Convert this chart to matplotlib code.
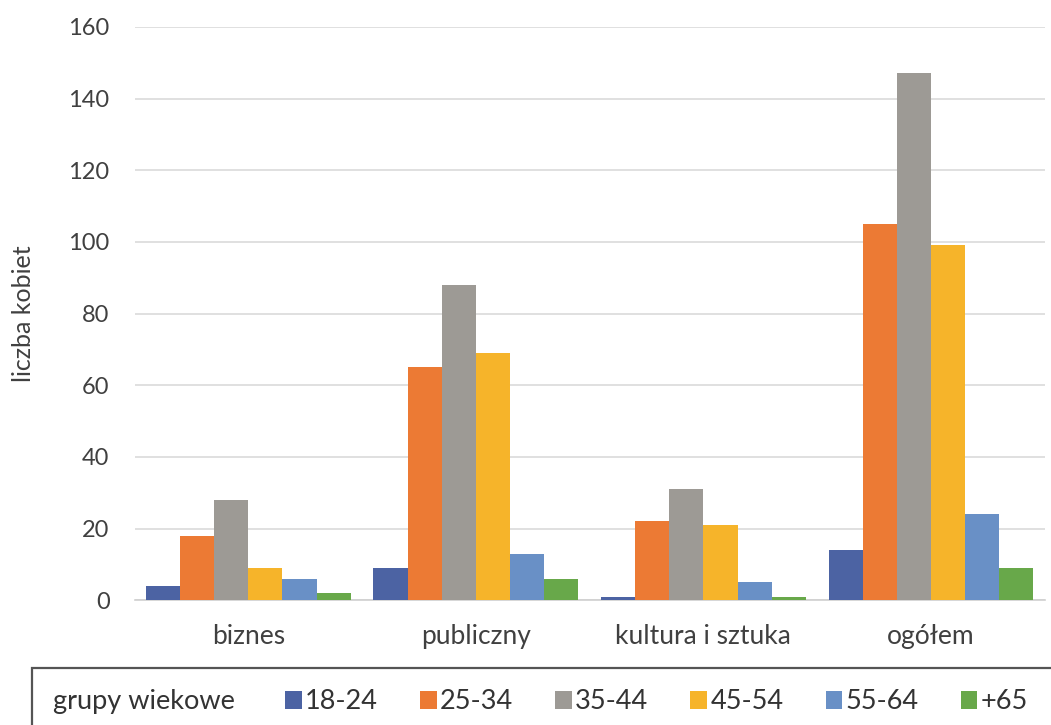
import numpy as np
import matplotlib.pyplot as plt
from matplotlib.patches import Rectangle

plt.rcParams['font.family'] = ['Lato', 'DejaVu Sans']

categories = ['biznes', 'publiczny', 'kultura i sztuka', 'ogółem']
age_groups = ['18-24', '25-34', '35-44', '45-54', '55-64', '+65']
values = {
    '18-24': [4, 9, 1, 14],
    '25-34': [18, 65, 22, 105],
    '35-44': [28, 88, 31, 147],
    '45-54': [9, 69, 21, 99],
    '55-64': [6, 13, 5, 24],
    '+65': [2, 6, 1, 9],
}
colors = ['#4c63a3', '#ec7a34', '#9d9a95', '#f6b42a', '#6990c6', '#68a84a']

fig = plt.figure(figsize=(10.51, 7.25), dpi=100)
ax = fig.add_axes([0.128, 0.172, 0.866, 0.791])

x = np.arange(len(categories))
n = len(age_groups)
width = 0.9 / n
handles = []
for i, (g, c) in enumerate(zip(age_groups, colors)):
    pos = x - 0.45 + width * (i + 0.5)
    b = ax.bar(pos, values[g], width=width, color=c, label=g, zorder=3)
    handles.append(b)

ax.set_xlim(-0.5, len(categories) - 0.5)
ax.set_ylim(0, 160)
ax.set_yticks(range(0, 161, 20))
ax.grid(axis='y', color='#dadada', linewidth=1.2, zorder=0)
for s in ['top', 'right', 'left']:
    ax.spines[s].set_visible(False)
ax.spines['bottom'].set_color('#d0d0d0')
ax.spines['bottom'].set_linewidth(1.2)
ax.tick_params(axis='both', length=0, colors='#404040', labelsize=17)
ax.tick_params(axis='x', pad=17, labelsize=19)
ax.tick_params(axis='y', pad=18)
ax.set_xticks(x)
ax.set_xticklabels(categories)
ax.set_ylabel('liczba kobiet', fontsize=18, color='#404040')
ax.yaxis.set_label_coords(-0.109, 0.5)

# legend frame running off the bottom-right edge
fig.patches.append(Rectangle((0.030, -0.05), 1.0, 0.1286, transform=fig.transFigure,
                             fill=False, edgecolor='#555555', linewidth=1.6))
fig.text(0.050, 0.032, 'grupy wiekowe', fontsize=19.5, color='#333333', va='center')
fig.legend(handles=handles, labels=age_groups, loc='center left',
           bbox_to_anchor=(0.271, 0.032), ncol=6, frameon=False,
           fontsize=19.5, handlelength=0.62, handleheight=0.62, handletextpad=0.12,
           columnspacing=1.55, labelcolor='#333333', borderaxespad=0, borderpad=0)

fig.savefig('out.png', dpi=100)
